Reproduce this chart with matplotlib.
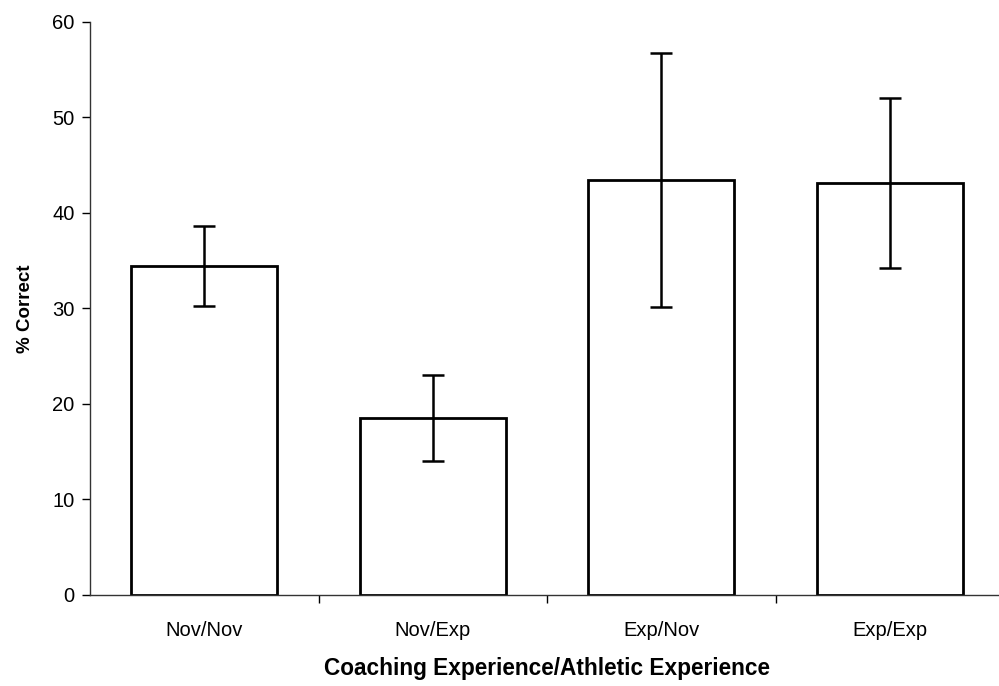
import numpy as np
import matplotlib.pyplot as plt

plt.rcParams['font.family'] = ['Liberation Sans', 'DejaVu Sans']

# group means and error bars (% correct)
groups = ["Nov/Nov", "Nov/Exp", "Exp/Nov", "Exp/Exp"]
pct_correct = [34.45, 18.5, 43.5, 43.1]
pct_err = [4.15, 4.5, 13.3, 8.9]
y_ticks = [0, 10, 20, 30, 40, 50, 60]


def plot_bars():
    fig = plt.figure(figsize=(9.99, 6.86), dpi=100)
    ax = fig.add_axes([0.0901, 0.1327, 0.915, 0.8353])

    x = np.arange(len(groups))
    ax.bar(x, pct_correct, width=0.64, color="white", edgecolor="black",
           linewidth=2.0, zorder=2)
    ax.errorbar(x, pct_correct, yerr=pct_err, fmt="none", ecolor="black",
                elinewidth=1.8, capsize=8, capthick=1.8, zorder=3)

    ax.set_xlim(-0.5, len(groups) - 0.5)
    ax.set_ylim(0, 60)
    ax.set_yticks(y_ticks)
    ax.set_xticks(x)
    ax.set_xticklabels(groups)
    ax.set_xticks(x[:-1] + 0.5, minor=True)

    for side in ("top", "right"):
        ax.spines[side].set_visible(False)
    for side in ("left", "bottom"):
        ax.spines[side].set_linewidth(1.0)
        ax.spines[side].set_color("#333333")

    ax.tick_params(axis="y", direction="out", length=6, width=1.0,
                   labelsize=14.5, pad=5)
    ax.tick_params(axis="x", which="major", length=0, labelsize=14.5, pad=19)
    ax.tick_params(axis="x", which="minor", direction="out", length=6, width=1.0)

    ax.set_ylabel("% Correct", fontsize=13.5, fontweight="bold", labelpad=13)
    ax.set_xlabel("Coaching Experience/Athletic Experience", fontsize=16.3,
                  fontweight="bold", labelpad=12)

    fig.savefig("out.png", dpi=100)


if __name__ == "__main__":
    plot_bars()
